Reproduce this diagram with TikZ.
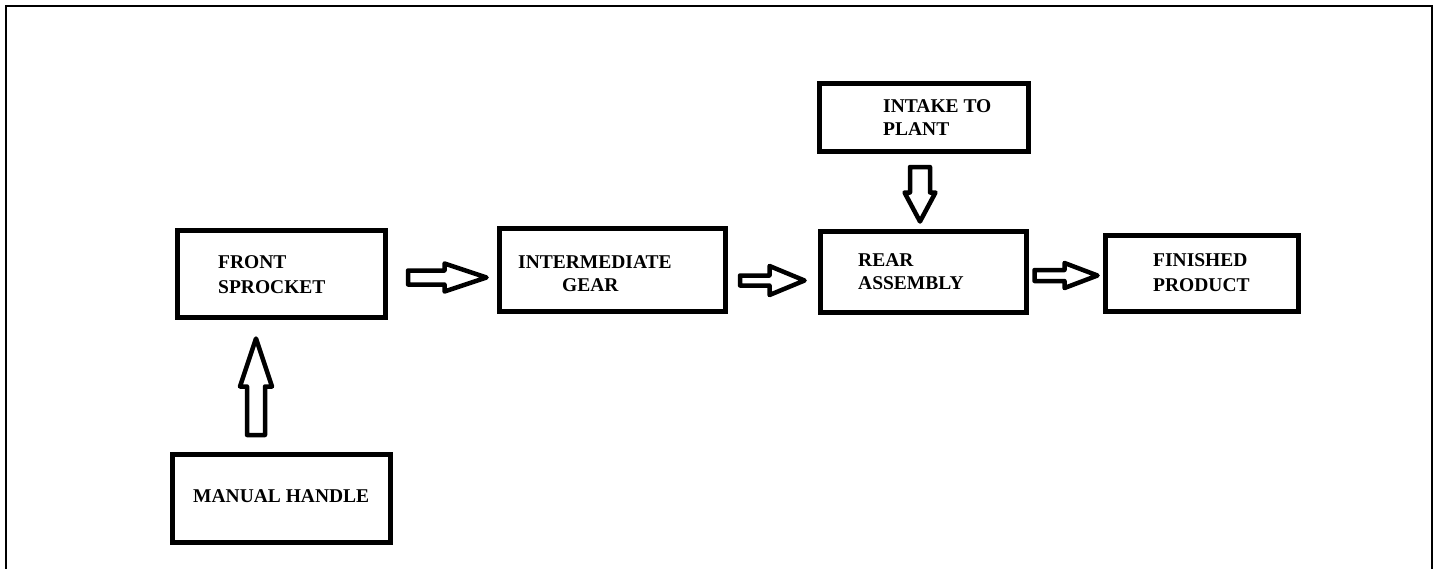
\documentclass[tikz,border=0pt]{standalone}
\usepackage{fontspec}
\setmainfont{Liberation Serif}
\usetikzlibrary{calc}
\tikzset{
  box/.style={draw=black, line width=5pt, fill=white, inner sep=0pt},
  lbl/.style={anchor=base west, inner sep=0pt, font=\fontsize{19.5}{23}\selectfont\bfseries},
  barrow/.style={draw=black, line width=4.5pt, line join=round, fill=white},
  frame/.style={draw=black, line width=2.5pt}
}
% block arrow: #1 start coord, #2 tip coord, #3 shaft half width, #4 head half width, #5 head length
\newcommand{\blockarr}[5]{%
  \coordinate (hb) at ($(#2)!#5!(#1)$);
  \draw[barrow] ($(#1)!#3!90:(#2)$) -- ($(hb)!#3!90:(#2)$) -- ($(hb)!#4!90:(#2)$) -- (#2)
    -- ($(hb)!#4!-90:(#2)$) -- ($(hb)!#3!-90:(#2)$) -- ($(#1)!#3!-90:(#2)$) -- cycle;
}
\begin{document}
\begin{tikzpicture}[x=1pt,y=-1pt]
\useasboundingbox (0,0) rectangle (1438,568);
\draw[frame] (6,569) -- (6,6) -- (1432,6) -- (1432,569);

% boxes
\node[box, minimum width=208pt, minimum height=87pt] (front) at (281,273.5) {};
\node[box, minimum width=226pt, minimum height=83pt] (inter) at (612,269.5) {};
\node[box, minimum width=209pt, minimum height=68pt] (intake) at (923.5,117) {};
\node[box, minimum width=206pt, minimum height=81pt] (rear) at (923,271.5) {};
\node[box, minimum width=193pt, minimum height=76pt] (fin) at (1201.5,273) {};
\node[box, minimum width=218pt, minimum height=88pt] (manual) at (281,498) {};

% labels
\node[lbl] (frontA) at (218,268) {FRONT};
\node[lbl] (frontB) at (218,293) {SPROCKET};
\node[lbl] (interA) at (518,268) {INTERMEDIATE};
\node[lbl] (interB) at (562,291) {GEAR};
\node[lbl] (intakeA) at (883,112) {INTAKE TO};
\node[lbl] (intakeB) at (883,135) {PLANT};
\node[lbl] (rearA) at (858,266) {REAR};
\node[lbl] (rearB) at (858,289) {ASSEMBLY};
\node[lbl] (finA) at (1153,266) {FINISHED};
\node[lbl] (finB) at (1153,291) {PRODUCT};
\node[lbl] (manualA) at (193,502) {MANUAL HANDLE};

% arrow end points
\coordinate (a1s) at ($(front.east)+(20.5,4)$);
\coordinate (a1t) at ($(inter.west)+(-10,8)$);
\coordinate (a2s) at ($(inter.east)+(12.5,11)$);
\coordinate (a2t) at ($(rear.west)+(-13,9)$);
\coordinate (a3s) at ($(rear.east)+(6,4)$);
\coordinate (a3t) at ($(fin.west)+(-5,2.5)$);
\coordinate (a4s) at ($(intake.south)+(-3.5,13.5)$);
\coordinate (a4t) at ($(rear.north)+(-3,-7)$);
\coordinate (a5s) at ($(manual.north)+(-25,-16.5)$);
\coordinate (a5t) at ($(front.south)+(-25,19)$);

\blockarr{a1s}{a1t}{7pt}{14pt}{42pt}
\blockarr{a2s}{a2t}{5pt}{14.5pt}{35pt}
\blockarr{a3s}{a3t}{5.5pt}{12.5pt}{33pt}
\blockarr{a4s}{a4t}{10pt}{15.5pt}{29pt}
\blockarr{a5s}{a5t}{9pt}{16pt}{48pt}
\end{tikzpicture}
\end{document}
